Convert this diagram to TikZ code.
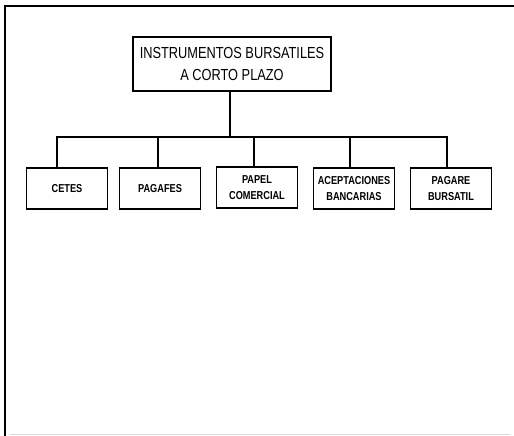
\documentclass[tikz,border=0pt]{standalone}
\usepackage{fontspec}
\newfontfamily\titlefont[FakeStretch=0.8]{Liberation Sans}
\newfontfamily\labelfont[FakeStretch=0.8]{Liberation Sans}
\begin{document}
\begin{tikzpicture}[x=1pt,y=-1pt,
  framefine/.style={line width=2pt,black},
  headbox/.style={draw,line width=1.3pt,minimum width=198pt,minimum height=54pt,
    align=center,inner sep=0pt,font=\titlefont\fontsize{16}{22}\selectfont},
  itembox/.style={draw,line width=1.3pt,minimum width=81pt,minimum height=41pt,
    align=center,inner sep=0pt,font=\labelfont\bfseries\fontsize{11.5}{16}\selectfont},
  conn/.style={line width=2.6pt,line cap=rect}]
\useasboundingbox (0,0) rectangle (514,436);
% page frame
\draw[framefine] (5,436) -- (5,6) -- (514,6);
\draw[black!15,line width=1pt] (10,434) -- (510,434);

% title
\node[headbox] (head) at (232,64) {INSTRUMENTOS BURSATILES\\A CORTO PLAZO};

% instruments
\node[itembox] (cetes)  at (67,188.5)  {CETES};
\node[itembox] (pagafes) at (160,188.5) {PAGAFES};
\node[itembox] (papel)  at (257,187.5) {PAPEL\\COMERCIAL};
\node[itembox] (acept)  at (354,188.5) {ACEPTACIONES\\BANCARIAS};
\node[itembox] (pagare) at (451,188.5) {PAGARE\\BURSATIL};

% connector bar
\coordinate (d1) at (57,137);
\coordinate (d2) at (158,137);
\coordinate (d3) at (254,137);
\coordinate (d4) at (350,137);
\coordinate (d5) at (447,137);
\coordinate (hub) at (230,137);

\draw[conn] (head.south -| hub) -- (hub);
\draw[conn] (d1) -- (d5);
\draw[conn] (d1) -- (d1 |- cetes.north);
\draw[conn] (d2) -- (d2 |- pagafes.north);
\draw[conn] (d3) -- (d3 |- papel.north);
\draw[conn] (d4) -- (d4 |- acept.north);
\draw[conn] (d5) -- (d5 |- pagare.north);
\end{tikzpicture}
\end{document}
